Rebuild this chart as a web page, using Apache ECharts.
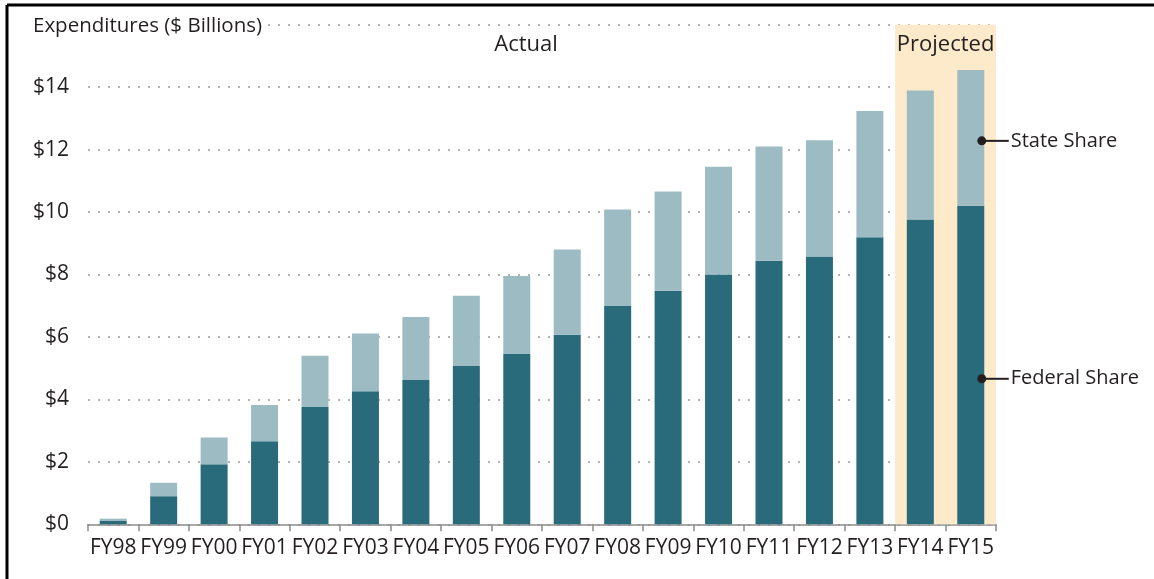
<!DOCTYPE html>
<html>
<head>
<meta charset="utf-8">
<script src="https://cdn.jsdelivr.net/npm/echarts@6/dist/echarts.min.js"></script>
<style>
html,body{margin:0;padding:0;background:#fff;}
#chart{width:1154px;height:579px;}
</style>
</head>
<body>
<div id="chart"></div>
<script>
const categories = ['FY98','FY99','FY00','FY01','FY02','FY03','FY04','FY05','FY06','FY07','FY08','FY09','FY10','FY11','FY12','FY13','FY14','FY15'];
const federalShare = [0.12,0.90,1.92,2.66,3.76,4.26,4.62,5.07,5.45,6.07,6.99,7.48,8.00,8.44,8.58,9.19,9.76,10.20];
const totalExpenditures = [0.18,1.33,2.78,3.82,5.40,6.11,6.64,7.32,7.95,8.80,10.08,10.66,11.45,12.10,12.30,13.24,13.89,14.55];
const stateShare = totalExpenditures.map((t, i) => +(t - federalShare[i]).toFixed(2));
const yTicks = [0,2,4,6,8,10,12,14,16];

const FONT = "'Open Sans', sans-serif";
const TXT = '#231f20';

const chart = echarts.init(document.getElementById('chart'), null, {renderer:'canvas'});
chart.setOption({
  animation:false,
  backgroundColor:'#fff',
  grid:{left:88, right:158, top:24.7, bottom:54.7, containLabel:false},
  xAxis:{
    type:'category', data:categories,
    axisLine:{lineStyle:{color:'#8c8c8c', width:1.5}},
    axisTick:{show:true, length:7, lineStyle:{color:'#8c8c8c', width:1.5}},
    axisLabel:{color:TXT, fontFamily:FONT, fontSize:21, margin:13, interval:0}
  },
  yAxis:{
    type:'value', min:yTicks[0], max:yTicks[yTicks.length-1], interval:2,
    axisLine:{show:false}, axisTick:{show:false},
    axisLabel:{color:TXT, fontFamily:FONT, fontSize:21, margin:19,
      formatter:v => v === 16 ? '' : '$' + v},
    splitLine:{lineStyle:{color:'#9a9a9a', type:[2,8], width:1.5}}
  },
  series:[
    {
      name:'Federal Share', type:'bar', stack:'total', data:federalShare,
      barWidth:27, itemStyle:{color:'#296b7b'}, z:3,
      markArea:{
        silent:true,
        itemStyle:{color:'#fdeacb'},
        label:{show:true, position:'insideTop', formatter:'Projected', color:TXT, fontFamily:FONT, fontSize:22, distance:9},
        data:[[{xAxis:'FY14', yAxis:16},{xAxis:'FY15', yAxis:0}]]
      }
    },
    {
      name:'State Share', type:'bar', stack:'total', data:stateShare,
      barWidth:27, itemStyle:{color:'#9dbbc3'}, z:3
    }
  ]
});

function place(){
  const sp = chart.convertToPixel({seriesIndex:1}, ['FY15', 12.28]);
  const fp = chart.convertToPixel({seriesIndex:0}, ['FY15', 4.66]);
  const top = chart.convertToPixel({yAxisIndex:0}, 16);
  const dx = 11;
  chart.setOption({graphic:[
    {type:'line', shape:{x1:7, y1:5, x2:7, y2:579}, style:{stroke:'#000', lineWidth:3}, z:100},
    {type:'line', shape:{x1:7, y1:5, x2:1154, y2:5}, style:{stroke:'#000', lineWidth:3}, z:100},
    {type:'text', x:33, y:top + 1, z:100,
      style:{text:'Expenditures ($ Billions)', fill:TXT, font:"20.5px " + FONT, textVerticalAlign:'middle', backgroundColor:'#fff', padding:[0,4,0,0]}},
    {type:'text', x:526, y:45, z:100,
      style:{text:'Actual', fill:TXT, font:"22px " + FONT, textAlign:'center', textVerticalAlign:'middle'}},
    {type:'circle', shape:{cx:sp[0]+dx, cy:sp[1], r:4.5}, style:{fill:'#231f20'}, z:100},
    {type:'line', shape:{x1:sp[0]+dx, y1:sp[1], x2:sp[0]+dx+27, y2:sp[1]}, style:{stroke:'#231f20', lineWidth:2}, z:100},
    {type:'text', x:sp[0]+dx+29, y:sp[1], z:100,
      style:{text:'State Share', fill:TXT, font:"20px " + FONT, textVerticalAlign:'middle'}},
    {type:'circle', shape:{cx:fp[0]+dx, cy:fp[1], r:4.5}, style:{fill:'#231f20'}, z:100},
    {type:'line', shape:{x1:fp[0]+dx, y1:fp[1], x2:fp[0]+dx+27, y2:fp[1]}, style:{stroke:'#231f20', lineWidth:2}, z:100},
    {type:'text', x:fp[0]+dx+29, y:fp[1], z:100,
      style:{text:'Federal Share', fill:TXT, font:"20px " + FONT, textVerticalAlign:'middle'}}
  ]});
}
place();
</script>
</body>
</html>
